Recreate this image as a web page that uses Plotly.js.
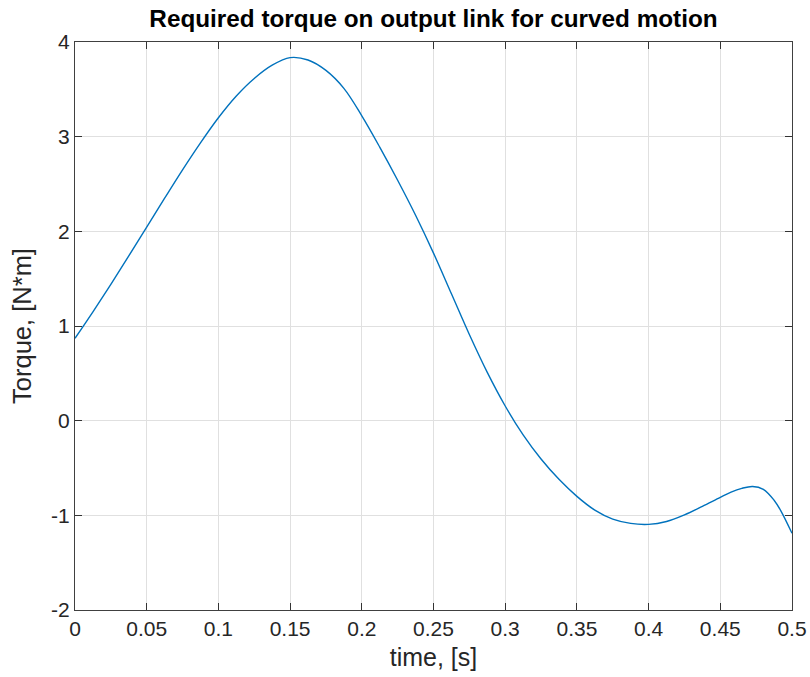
<!DOCTYPE html>
<html>
<head>
<meta charset="utf-8">
<script src="https://cdn.plot.ly/plotly-3.0.1.min.js"></script>
<style>
  html, body { margin: 0; padding: 0; background: #ffffff; }
  #chart { width: 810px; height: 677px; }
</style>
</head>
<body>
<div id="chart"></div>
<script>
// Time samples, s
const time = [
  0, 0.0125, 0.025, 0.0375, 0.05, 0.0625, 0.075, 0.0875, 0.1, 0.1125,
  0.125, 0.1375, 0.15, 0.1625, 0.175, 0.1875, 0.2, 0.2125, 0.225, 0.2375,
  0.25, 0.2625, 0.275, 0.2875, 0.3, 0.3125, 0.325, 0.3375, 0.35, 0.3625,
  0.375, 0.3875, 0.4, 0.4125, 0.425, 0.4375, 0.45, 0.4575, 0.465, 0.4725,
  0.48, 0.4875, 0.4925, 0.5
];

// Required torque on the output link, N*m
const torque = [
  0.87, 1.15, 1.44, 1.74, 2.045, 2.35, 2.65, 2.935, 3.20, 3.43,
  3.615, 3.755, 3.835, 3.81, 3.70, 3.51, 3.22, 2.89, 2.54, 2.17,
  1.77, 1.34, 0.91, 0.51, 0.155, -0.15, -0.405, -0.62, -0.80, -0.945,
  -1.04, -1.085, -1.095, -1.065, -0.995, -0.905, -0.81, -0.755, -0.715, -0.695,
  -0.725, -0.84, -0.96, -1.19
];

// Axis ticks
const xTickVals = [0, 0.05, 0.1, 0.15, 0.2, 0.25, 0.3, 0.35, 0.4, 0.45, 0.5];
const xTickText = ['0', '0.05', '0.1', '0.15', '0.2', '0.25', '0.3', '0.35', '0.4', '0.45', '0.5'];
const yTickVals = [-2, -1, 0, 1, 2, 3, 4];
const yTickText = ['-2', '-1', '0', '1', '2', '3', '4'];

const FONT = '"Liberation Sans", Arial, Helvetica, sans-serif';
const INK = '#262626';

const trace = {
  x: time,
  y: torque,
  type: 'scatter',
  mode: 'lines',
  line: { color: '#0072BD', width: 1.4, shape: 'spline', smoothing: 1 },
  hoverinfo: 'x+y'
};

const axisCommon = {
  showline: true,
  linecolor: '#404040',
  linewidth: 1.2,
  mirror: 'ticks',
  ticks: 'inside',
  ticklen: 7,
  tickwidth: 1,
  tickcolor: '#333333',
  showgrid: true,
  gridcolor: '#e0e0e0',
  gridwidth: 1,
  zeroline: false,
  tickmode: 'array',
  tickfont: { family: FONT, size: 21, color: INK }
};

const layout = {
  width: 810,
  height: 677,
  paper_bgcolor: '#ffffff',
  plot_bgcolor: '#ffffff',
  margin: { l: 75, r: 18, t: 42, b: 67 },
  showlegend: false,
  title: {
    text: 'Required torque on output link for curved motion',
    font: { family: FONT, size: 24.3, color: '#000000', weight: 'bold' },
    xref: 'paper',
    x: 0.5,
    xanchor: 'center',
    yref: 'container',
    y: 0.973,
    yanchor: 'middle'
  },
  xaxis: Object.assign({}, axisCommon, {
    range: [0, 0.5],
    tickvals: xTickVals,
    ticktext: xTickText,
    title: { text: 'time, [s]', font: { family: FONT, size: 25, color: INK }, standoff: 9 }
  }),
  yaxis: Object.assign({}, axisCommon, {
    range: [-2, 4],
    tickvals: yTickVals,
    ticktext: yTickText,
    title: { text: 'Torque, [N*m]', font: { family: FONT, size: 25.5, color: INK }, standoff: 12 }
  })
};

Plotly.newPlot('chart', [trace], layout, { displayModeBar: false, staticPlot: true });
</script>
</body>
</html>
